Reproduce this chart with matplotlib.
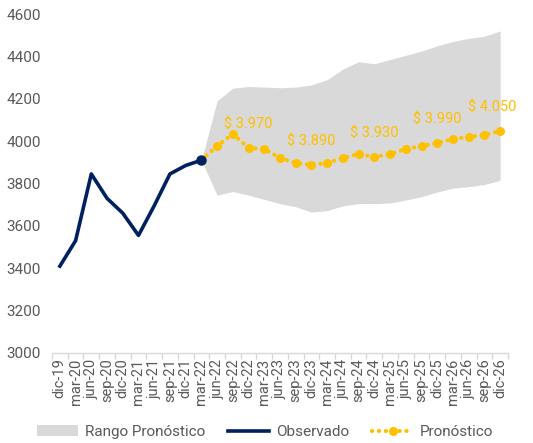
import matplotlib
matplotlib.use("Agg")
import matplotlib.pyplot as plt
import numpy as np

labels = ["dic-19","mar-20","jun-20","sep-20","dic-20","mar-21","jun-21","sep-21","dic-21",
          "mar-22","jun-22","sep-22","dic-22","mar-23","jun-23","sep-23","dic-23","mar-24",
          "jun-24","sep-24","dic-24","mar-25","jun-25","sep-25","dic-25","mar-26","jun-26",
          "sep-26","dic-26"]
observado = [3410, 3530, 3845, 3730, 3660, 3555, 3695, 3845, 3885, 3910]
pronostico = [3910, 3977, 4034, 3968, 3963, 3920, 3897, 3887, 3897, 3920, 3939, 3925, 3939,
              3963, 3977, 3991, 4010, 4020, 4029, 4048]
rango_sup = [3910, 4190, 4250, 4258, 4255, 4252, 4255, 4265, 4290, 4340, 4375, 4365, 4385,
             4405, 4425, 4450, 4470, 4485, 4495, 4520]
rango_inf = [3910, 3745, 3762, 3745, 3725, 3705, 3690, 3665, 3672, 3695, 3705, 3705, 3708,
             3722, 3738, 3760, 3778, 3785, 3795, 3815]
etiqueta_idx = [12, 16, 20, 24, 28]
etiqueta_txt = ["$ 3.970", "$ 3.890", "$ 3.930", "$ 3.990", "$ 4.050"]

plt.rcParams['font.family'] = ['Roboto', 'DejaVu Sans']
fig = plt.figure(figsize=(5.33, 4.43), dpi=100)
ax = fig.add_axes([52/533, 1-353/443, 456/533, 339/443])

n = len(labels)
x_obs = np.arange(len(observado))
x_fc = np.arange(n - len(pronostico), n)

gold = "#FFC000"
navy = "#002060"
grey = "#595959"
h1 = ax.fill_between(x_fc, rango_inf, rango_sup, color="#D9D9D9", lw=0, label="Rango Pronóstico", zorder=1)
h2, = ax.plot(x_obs, observado, color=navy, lw=2.6, label="Observado", zorder=4)
h3, = ax.plot(x_fc, pronostico, color=gold, lw=3, linestyle=(0, (0.05, 1.6)), dash_capstyle='round',
              marker='o', markersize=6.5, markeredgewidth=0, label="Pronóstico", zorder=3)
ax.plot([x_obs[-1]], [observado[-1]], 'o', color=navy, markersize=6.5, zorder=5)

for i, t in zip(etiqueta_idx, etiqueta_txt):
    xx = i - 0.5 if i == n - 1 else i
    ax.annotate(t, (xx, pronostico[i - x_fc[0]]), xytext=(0, 12), textcoords='offset points',
                ha='center', va='bottom', color=gold, fontsize=10.5)

ax.set_xlim(-0.5, n - 0.5)
ax.set_ylim(3000, 4600)
ax.set_yticks(np.arange(3000, 4601, 200))
ax.set_xticks(np.arange(n))
ax.set_xticklabels(labels, rotation=90, fontsize=10.5, color=grey)
ax.set_xticks(np.arange(-0.5, n, 1), minor=True)
ax.tick_params(axis='x', which='major', length=0, pad=4)
ax.tick_params(axis='x', which='minor', length=4, color="#D9D9D9", width=1)
ax.tick_params(axis='y', length=0, labelsize=11, labelcolor=grey, pad=8)
for s in ['top', 'right', 'left']:
    ax.spines[s].set_visible(False)
ax.spines['bottom'].set_color("#D9D9D9")
ax.spines['bottom'].set_linewidth(1)

leg = fig.legend([h1, h2, h3], ["Rango Pronóstico", "Observado", "Pronóstico"],
                 loc='center', bbox_to_anchor=(265/533, 1-432/443), ncol=3, frameon=False,
                 fontsize=11, handlelength=2.7, columnspacing=1.5, handletextpad=0.45,
                 borderaxespad=0, borderpad=0)
for t in leg.get_texts():
    t.set_color(grey)

fig.savefig("out.png", dpi=100)
